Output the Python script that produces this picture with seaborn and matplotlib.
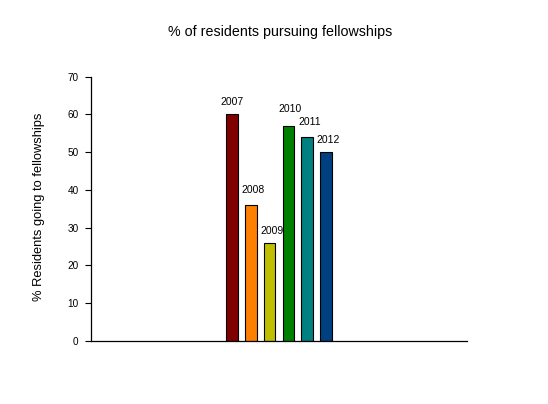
import seaborn as sns
import matplotlib.pyplot as plt
import pandas as pd

years = ['2007', '2008', '2009', '2010', '2011', '2012']
pct_fellowship = [60, 36, 26, 57, 54, 50]
bar_colors = ['#800000', '#FF8000', '#BFBF00', '#008000', '#008080', '#004080']
# little nudges of the year labels (pixels), like the hand-placed excel labels
label_nudge = [(0, 7), (2.5, 10), (2, 7), (1.5, 12), (3, 10), (2.5, 7)]

df = pd.DataFrame({'grp': [''] * len(years), 'year': years, 'pct': pct_fellowship})

sns.set_style('white')
plt.rcParams['font.family'] = ['Liberation Sans', 'DejaVu Sans']
plt.rcParams['text.color'] = 'black'

fig = plt.figure(figsize=(5.48, 4.04), dpi=100)
ax = fig.add_axes([91 / 548, 1 - 341 / 404, 376 / 548, 264.3 / 404])

sns.barplot(data=df, x='grp', y='pct', hue='year', hue_order=years,
            palette=bar_colors, width=0.30, gap=0.39, edgecolor='black',
            linewidth=0.8, saturation=1, legend=False, ax=ax)

for cont, yr, (dx, dy) in zip(ax.containers, years, label_nudge):
    for bar in cont:
        ax.annotate(yr, (bar.get_x() + bar.get_width() / 2, bar.get_height()),
                    xytext=(dx, dy), textcoords='offset pixels',
                    ha='center', va='bottom', fontsize=7.5, color='black')

ax.set_ylim(0, 70)
ax.set_yticks(range(0, 71, 10))
ax.set_xlabel('')
ax.set_ylabel('')
ax.set_xticks([])
sns.despine(ax=ax)
for s in ['left', 'bottom']:
    ax.spines[s].set_color('black')
    ax.spines[s].set_linewidth(0.9)
ax.tick_params(axis='y', left=True, length=4, width=0.8, pad=5,
               labelsize=7.2, colors='black')

fig.text(280 / 548, 1 - 32 / 404, '% of residents pursuing fellowships',
         ha='center', va='center', fontsize=10.3, color='black')
fig.text(39.5 / 548, 1 - 206.5 / 404, '% Residents going to fellowships',
         ha='center', va='center', rotation=90, fontsize=9.3, color='black')

fig.savefig('out.png', dpi=100)
